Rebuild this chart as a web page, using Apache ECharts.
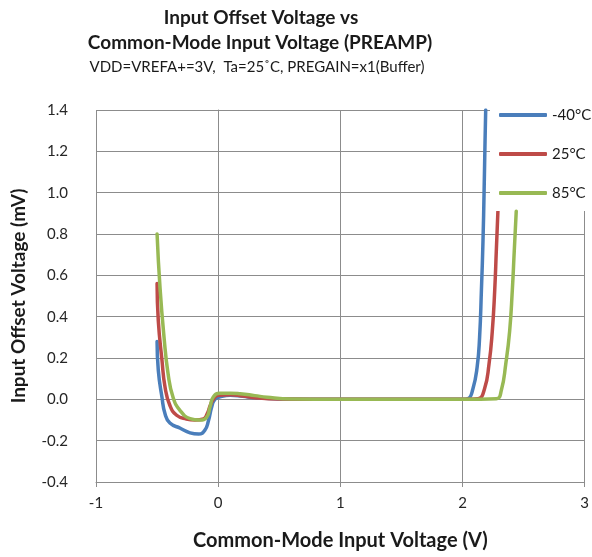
<!DOCTYPE html>
<html>
<head>
<meta charset="utf-8">
<script src="https://cdn.jsdelivr.net/npm/echarts@6/dist/echarts.min.js"></script>
<style>
  html, body { margin: 0; padding: 0; background: #fff; }
  #chart { width: 592px; height: 557px; }
</style>
</head>
<body>
<div id="chart"></div>
<script>
// Common-mode input voltage (V) and offset voltage (mV) for each temperature
const cmvCold = [-0.5, -0.49, -0.46, -0.435, -0.395, -0.31, -0.23, -0.16, -0.11, -0.08, -0.053, -0.027, 0.015, 0.1, 0.2, 0.3, 0.5, 1.0, 1.5, 2.0, 2.045, 2.085, 2.12, 2.14, 2.155, 2.168, 2.177, 2.185, 2.19];
const vosCold = [0.28, 0.14, 0.01, -0.07, -0.115, -0.14, -0.162, -0.168, -0.15, -0.105, -0.037, 0.0, 0.012, 0.02, 0.015, 0.008, 0.002, 0, 0, 0, 0.003, 0.05, 0.156, 0.3, 0.53, 0.77, 1.01, 1.26, 1.4];

const cmvRoom = [-0.5, -0.49, -0.46, -0.435, -0.395, -0.34, -0.26, -0.19, -0.12, -0.09, -0.065, -0.04, 0.0, 0.1, 0.2, 0.3, 0.5, 1.0, 1.5, 2.0, 2.127, 2.18, 2.217, 2.244, 2.264, 2.277, 2.29];
const vosRoom = [0.56, 0.38, 0.19, 0.06, -0.03, -0.077, -0.095, -0.1, -0.095, -0.07, -0.03, 0.0, 0.02, 0.022, 0.016, 0.008, 0.002, 0, 0, 0, 0.003, 0.05, 0.17, 0.33, 0.53, 0.72, 0.91];

const cmvHot = [-0.5, -0.476, -0.443, -0.41, -0.37, -0.313, -0.23, -0.15, -0.094, -0.067, -0.04, 0.014, 0.1, 0.18, 0.3, 0.4, 0.6, 1.0, 1.5, 2.0, 2.277, 2.318, 2.354, 2.386, 2.408, 2.424, 2.44];
const vosHot = [0.80, 0.54, 0.30, 0.124, 0.011, -0.053, -0.093, -0.1, -0.086, -0.037, 0.011, 0.03, 0.03, 0.027, 0.018, 0.01, 0.002, 0, 0, 0, 0.003, 0.044, 0.17, 0.33, 0.53, 0.72, 0.91];

const seriesNames = ['-40°C', '25°C', '85°C'];
const seriesColors = ['#4A7EBB', '#BE4B48', '#98B954'];

const titleLines = ['Input Offset Voltage vs', 'Common-Mode Input Voltage (PREAMP)'];
const conditionText = 'VDD=VREFA+=3V,  Ta=25˚C, PREGAIN=x1(Buffer)';
const xAxisTitle = 'Common-Mode Input Voltage (V)';
const yAxisTitle = 'Input Offset Voltage (mV)';

const zip = (xs, ys) => xs.map((x, i) => [x, ys[i]]);
const curves = [zip(cmvCold, vosCold), zip(cmvRoom, vosRoom), zip(cmvHot, vosHot)];

const FONT = 'Lato';
const gridColor = '#8c8c8c';

const chart = echarts.init(document.getElementById('chart'), null, { renderer: 'canvas' });

chart.setOption({
  animation: false,
  backgroundColor: '#fff',
  textStyle: { fontFamily: FONT },
  graphic: [
    { type: 'text', x: 261, y: 18, style: { text: titleLines[0], font: 'bold 19px ' + FONT, fill: '#1a1a1a', align: 'center', verticalAlign: 'middle' } },
    { type: 'text', x: 260, y: 43, style: { text: titleLines[1], font: 'bold 19px ' + FONT, fill: '#1a1a1a', align: 'center', verticalAlign: 'middle' } },
    { type: 'text', x: 257, y: 67, style: { text: conditionText, font: '15px ' + FONT, fill: '#1a1a1a', align: 'center', verticalAlign: 'middle' } }
  ],
  legend: {
    orient: 'vertical',
    left: 490,
    top: 97,
    padding: [10, 10, 10, 9],
    backgroundColor: '#fff',
    itemGap: 23,
    itemWidth: 48,
    itemHeight: 4,
    icon: 'roundRect',
    textStyle: { fontSize: 15, lineHeight: 16, color: '#1a1a1a', fontFamily: FONT },
    data: seriesNames
  },
  grid: { left: 96, right: 7, top: 110, bottom: 75, containLabel: false },
  xAxis: {
    type: 'value',
    min: -1, max: 3, interval: 1,
    name: xAxisTitle,
    nameLocation: 'middle',
    nameGap: 49,
    nameTextStyle: { fontSize: 20, fontWeight: 'bold', color: '#1a1a1a', fontFamily: FONT },
    axisLine: { onZero: false, lineStyle: { color: gridColor, width: 1 } },
    axisTick: { show: true, length: 5, lineStyle: { color: gridColor } },
    axisLabel: { fontSize: 15, color: '#262626', margin: 14, fontFamily: FONT },
    splitLine: { show: true, lineStyle: { color: gridColor, width: 1 } }
  },
  yAxis: {
    type: 'value',
    min: -0.4, max: 1.4, interval: 0.2,
    name: yAxisTitle,
    nameLocation: 'middle',
    nameRotate: 90,
    nameGap: 68,
    nameTextStyle: { fontSize: 19, fontWeight: 'bold', color: '#1a1a1a', fontFamily: FONT },
    axisLine: { show: true, lineStyle: { color: gridColor, width: 1 } },
    axisTick: { show: true, length: 5, lineStyle: { color: gridColor } },
    axisLabel: { fontSize: 15, color: '#262626', margin: 28, fontFamily: FONT, formatter: v => v.toFixed(1) },
    splitLine: { show: true, lineStyle: { color: gridColor, width: 1 } }
  },
  series: curves.map((data, i) => ({
    type: 'line',
    name: seriesNames[i],
    data: data,
    smooth: 0.5,
    showSymbol: false,
    symbol: 'none',
    lineStyle: { color: seriesColors[i], width: 3.5, cap: 'round', join: 'round' },
    itemStyle: { color: seriesColors[i] },
    z: 2 + i
  }))
});
</script>
</body>
</html>
